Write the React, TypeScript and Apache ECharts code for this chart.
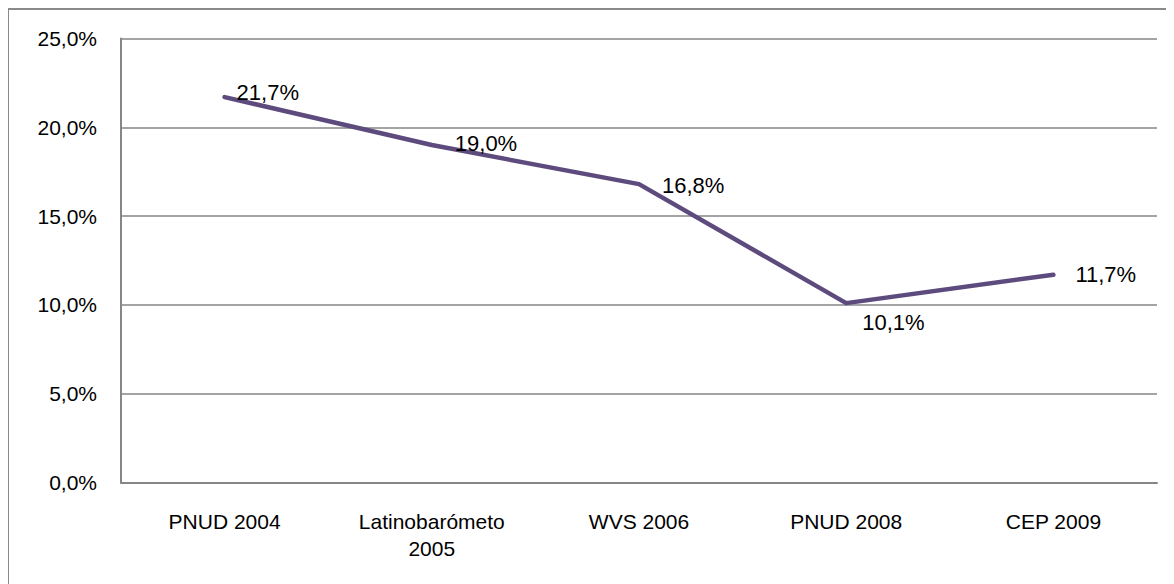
import React, { useEffect, useRef } from "react";
import * as echarts from "echarts";

const categories = ["PNUD 2004", "Latinobarómeto\n2005", "WVS 2006", "PNUD 2008", "CEP 2009"];
const values = [21.7, 19.0, 16.8, 10.1, 11.7];
const yTicks = { min: 0, max: 25, interval: 5 };

const fmt = (v: number) => v.toFixed(1).replace(".", ",") + "%";

const labelOffsets: Array<[number, number]> = [
  [12, -5],
  [23, -2],
  [23, 1],
  [16, 19],
  [22, 0],
];

export default function App() {
  const ref = useRef<HTMLDivElement>(null);
  useEffect(() => {
    if (!ref.current) return;
    const chart = echarts.init(ref.current, null, { renderer: "svg" });
    const font = "'Liberation Sans', Arial, sans-serif";
    chart.setOption({
      animation: false,
      backgroundColor: "#ffffff",
      grid: { left: 112, right: 17, top: 28.5, bottom: 101.5, containLabel: false },
      xAxis: {
        type: "category",
        data: categories,
        boundaryGap: true,
        axisLine: { show: true, lineStyle: { color: "#868686", width: 2 } },
        axisTick: { show: false },
        axisLabel: {
          color: "#000",
          fontFamily: font,
          fontSize: 21,
          margin: 25,
          lineHeight: 27,
          interval: 0,
        },
      },
      yAxis: {
        type: "value",
        min: yTicks.min,
        max: yTicks.max,
        interval: yTicks.interval,
        axisLine: { show: true, lineStyle: { color: "#868686", width: 2 } },
        axisTick: { show: false },
        splitLine: { show: true, lineStyle: { color: "#868686", width: 1.5 } },
        axisLabel: {
          color: "#000",
          fontFamily: font,
          fontSize: 21,
          margin: 24,
          formatter: (v: number) => fmt(v),
        },
      },
      series: [
        {
          type: "line",
          data: values.map((v, i) => ({
            value: v,
            label: { offset: labelOffsets[i] },
          })),
          showSymbol: true,
          symbol: "circle",
          symbolSize: 0.01,
          itemStyle: { color: "#5E4B7E" },
          lineStyle: { color: "#5E4B7E", width: 4.5, cap: "round", join: "round" },
          label: {
            show: true,
            position: "right",
            distance: 0,
            color: "#000",
            fontFamily: font,
            fontSize: 22,
            formatter: (p: any) => fmt(p.value),
          },
        },
      ],
    });
    return () => chart.dispose();
  }, []);
  return (
    <div
      style={{
        position: "relative",
        left: -1,
        width: 1167,
        height: 576,
        borderLeft: "2px solid #8a8a8a",
        borderTop: "2px solid #8a8a8a",
        boxSizing: "border-box",
        overflow: "hidden",
      }}
    >
      <div ref={ref} style={{ width: 1165, height: 574 }} />
    </div>
  );
}
